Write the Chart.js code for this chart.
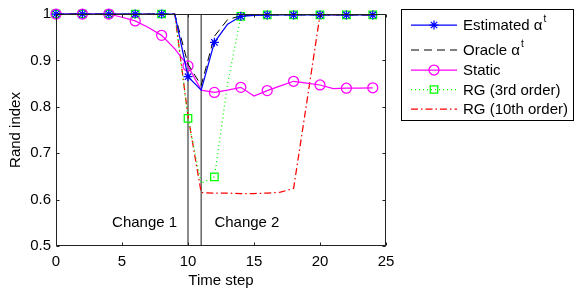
<!DOCTYPE html>
<html>
<head>
<meta charset="utf-8">
<script src="https://cdn.jsdelivr.net/npm/chart.js@4.4.1/dist/chart.umd.min.js"></script>
<style>
html, body { margin: 0; padding: 0; background: #fff; }
#wrap { width: 581px; height: 292px; }
</style>
</head>
<body>
<div id="wrap"><canvas id="myChart"></canvas></div>
<script>
// values
const timeSteps = [0, 1, 2, 3, 4, 5, 6, 7, 8, 9, 10, 11, 12, 13, 14, 15, 16, 17, 18, 19, 20, 21, 22, 23, 24];
const estimated = [1, 1, 1, 1, 1, 1, 1, 1, 1, 1, 0.865, 0.836, 0.939, 0.978, 0.995, 0.997, 0.998, 0.998, 0.998, 0.998, 0.998, 0.998, 0.998, 0.998, 0.998];
const oracle = [1, 1, 1, 1, 1, 1, 1, 1, 1, 1, 0.892, 0.846, 0.952, 0.988, 0.996, 0.998, 0.998, 0.998, 0.998, 0.998, 0.998, 0.998, 0.998, 0.998, 0.998];
const staticRI = [1, 1, 1, 1, 1, 0.993, 0.985, 0.971, 0.954, 0.925, 0.888, 0.836, 0.831, 0.836, 0.842, 0.823, 0.835, 0.845, 0.855, 0.851, 0.847, 0.839, 0.840, 0.840, 0.841];
const rg3 = [1, 1, 1, 1, 1, 1, 1, 1, 1, 1, 0.775, 0.635, 0.649, 0.85, 0.995, 0.997, 0.998, 0.998, 0.998, 0.998, 0.998, 0.998, 0.998, 0.998, 0.998];
const rg10 = [1, 1, 1, 1, 1, 1, 1, 1, 1, 1, 0.78, 0.615, 0.614, 0.614, 0.613, 0.613, 0.614, 0.616, 0.624, 0.81, 0.998, 0.998, 0.998, 0.998, 0.998];

const changePoints = [10, 11];
const changeLabels = ['Change 1', 'Change 2'];
const changeLabelX = [4.25, 12];
const changeLabelY = 0.549;

const xTickLabels = ['0', '5', '10', '15', '20', '25'];
const yTickLabels = ['0.5', '0.6', '0.7', '0.8', '0.9', '1'];
const seriesNames = ['Estimated \u03b1', 'Oracle \u03b1', 'Static', 'RG (3rd order)', 'RG (10th order)'];
const seriesSup = ['t', 't', '', '', ''];

const FONT = '"Liberation Sans", Arial, Helvetica, sans-serif';
const LW = 1.25;

function toPoints(values) {
    return timeSteps.map((t, i) => ({x: t, y: values[i]}));
}

function everyOther(r) {
    return ctx => (ctx.dataIndex % 2 === 0 ? r : 0);
}

let datasets = [
    {
        label: seriesNames[0], data: toPoints(estimated),
        borderColor: '#0000ff', backgroundColor: '#0000ff', borderWidth: LW,
        pointStyle: 'star', pointRadius: everyOther(4.5), pointBorderWidth: LW
    },
    {
        label: seriesNames[1], data: toPoints(oracle),
        borderColor: '#000000', borderWidth: 1, borderDash: [8, 5], pointRadius: 0
    },
    {
        label: seriesNames[2], data: toPoints(staticRI),
        borderColor: '#ff00ff', backgroundColor: 'rgba(0,0,0,0)', borderWidth: LW,
        pointStyle: 'circle', pointRadius: everyOther(5), pointBorderWidth: LW
    },
    {
        label: seriesNames[3], data: toPoints(rg3),
        borderColor: '#00ff00', backgroundColor: 'rgba(0,0,0,0)', borderWidth: LW, borderDash: [1, 3],
        pointStyle: 'rect', pointRadius: everyOther(5.3), pointBorderWidth: LW
    },
    {
        label: seriesNames[4], data: toPoints(rg10),
        borderColor: '#ff0000', borderWidth: LW, borderDash: [7, 3, 1.5, 3], pointRadius: 0
    }
];

changePoints.forEach(c => {
    datasets.push({
        label: 'change', data: [{x: c, y: 0.5}, {x: c, y: 1}],
        borderColor: '#666666', borderWidth: 1.5, pointRadius: 0
    });
});

datasets.forEach(d => {
    d.clip = false;
    d.tension = 0;
    d.fill = false;
    d.pointHoverRadius = 0;
});

const framePlugin = {
    id: 'frame',
    afterDraw(chart) {
        const {ctx, chartArea: a, scales: {x, y}} = chart;
        const L = Math.round(a.left) + 0.5, R = Math.round(a.right) - 0.5;
        const T = Math.round(a.top) + 0.5, B = Math.round(a.bottom) - 0.5;
        ctx.save();
        ctx.strokeStyle = '#222222';
        ctx.lineWidth = 1;
        ctx.setLineDash([]);
        ctx.strokeRect(L, T, R - L, B - T);
        ctx.beginPath();
        x.ticks.forEach(t => {
            const px = Math.round(x.getPixelForValue(t.value)) + 0.5;
            ctx.moveTo(px, B); ctx.lineTo(px, B - 3);
            ctx.moveTo(px, T); ctx.lineTo(px, T + 3);
        });
        y.ticks.forEach(t => {
            const py = Math.round(y.getPixelForValue(t.value)) + 0.5;
            ctx.moveTo(L, py); ctx.lineTo(L + 3, py);
            ctx.moveTo(R, py); ctx.lineTo(R - 3, py);
        });
        ctx.stroke();

        // change labels
        ctx.fillStyle = '#000';
        ctx.font = '15px ' + FONT;
        ctx.textAlign = 'left';
        ctx.textBaseline = 'middle';
        changeLabels.forEach((s, i) => {
            ctx.fillText(s, x.getPixelForValue(changeLabelX[i]), y.getPixelForValue(changeLabelY));
        });

        // legend
        const bx = 401.5, by = 9.5, bw = 172, bh = 111;
        ctx.fillStyle = '#fff';
        ctx.fillRect(bx, by, bw, bh);
        ctx.strokeStyle = '#000';
        ctx.strokeRect(bx, by, bw, bh);
        const rows = [25, 50, 70, 89.5, 109];
        for (let i = 0; i < 5; i++) {
            const d = chart.data.datasets[i];
            const ry = rows[i];
            ctx.strokeStyle = d.borderColor;
            ctx.lineWidth = d.borderWidth;
            ctx.setLineDash(d.borderDash || []);
            ctx.beginPath();
            ctx.moveTo(411, ry);
            ctx.lineTo(457, ry);
            ctx.stroke();
            ctx.setLineDash([]);
            if (d.pointStyle) {
                ctx.fillStyle = 'rgba(0,0,0,0)';
                const r = d.pointStyle === 'star' ? 4.5 : (d.pointStyle === 'rect' ? 5.3 : 5);
                Chart.helpers.drawPoint(ctx, {pointStyle: d.pointStyle, radius: r, borderWidth: LW, rotation: 0}, 434, ry);
            }
            ctx.fillStyle = '#000';
            ctx.font = '15px ' + FONT;
            ctx.textBaseline = 'middle';
            ctx.fillText(seriesNames[i], 463, rows[i] + 1);
            if (seriesSup[i]) {
                const w = ctx.measureText(seriesNames[i]).width;
                ctx.font = '10px ' + FONT;
                ctx.fillText(seriesSup[i], 463 + w + 1, rows[i] - 6);
            }
        }
        ctx.restore();
    }
};

new Chart(document.getElementById('myChart'), {
    type: 'line',
    data: {datasets: datasets},
    plugins: [framePlugin],
    options: {
        responsive: true,
        maintainAspectRatio: false,
        animation: false,
        events: [],
        layout: {padding: {left: 0, top: 9, right: 195, bottom: 0}},
        plugins: {
            legend: {display: false},
            tooltip: {enabled: false}
        },
        scales: {
            x: {
                type: 'linear', min: 0, max: 25,
                grid: {display: false, drawTicks: false},
                border: {display: false},
                ticks: {
                    stepSize: 5, padding: 7, maxRotation: 0,
                    color: '#000', font: {family: FONT, size: 15},
                    callback: (v, i) => xTickLabels[i]
                },
                title: {display: true, text: 'Time step', color: '#000', font: {family: FONT, size: 15}, padding: {top: 0, bottom: 2}},
                afterFit: s => { s.height = 46; }
            },
            y: {
                type: 'linear', min: 0.5, max: 1,
                grid: {display: false, drawTicks: false},
                border: {display: false},
                ticks: {
                    stepSize: 0.1, padding: 5,
                    color: '#000', font: {family: FONT, size: 15},
                    callback: (v, i) => yTickLabels[i]
                },
                title: {display: true, text: 'Rand index', color: '#000', font: {family: FONT, size: 15}, padding: {top: 7, bottom: 0}},
                afterFit: s => { s.width = 56; }
            }
        }
    }
});
</script>
</body>
</html>
